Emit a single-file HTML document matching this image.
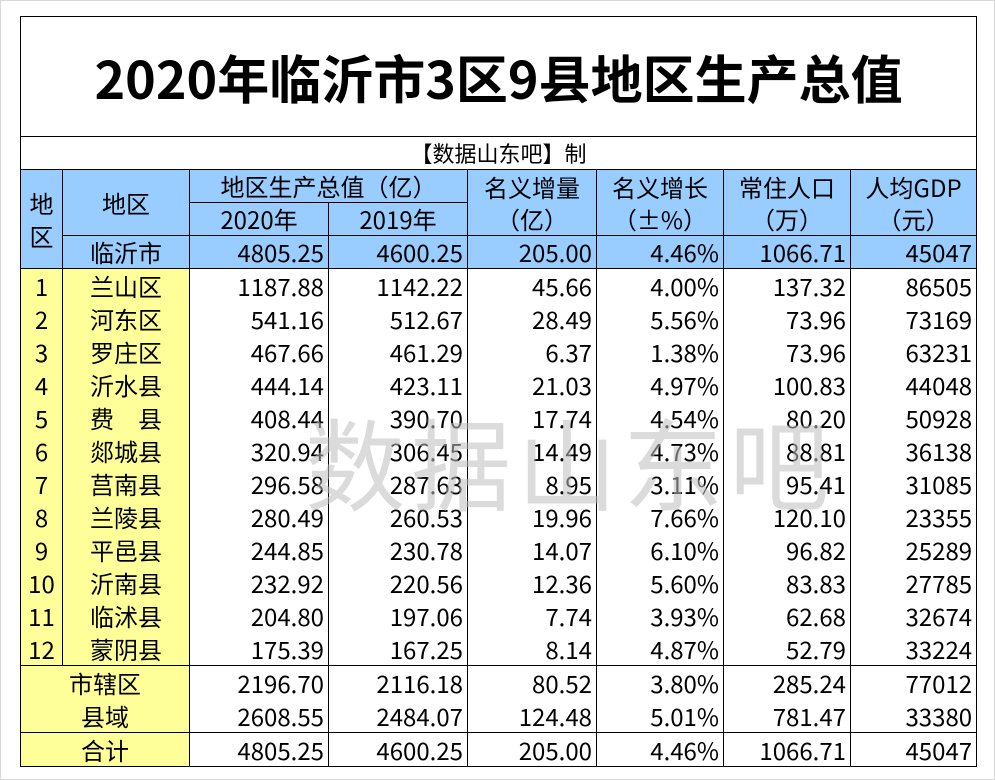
<!DOCTYPE html>
<html><head><meta charset="utf-8">
<style>
html,body{margin:0;padding:0;background:#fff;width:995px;height:780px;overflow:hidden;}
body{font-family:"Noto Sans CJK SC","Liberation Sans",sans-serif;color:#000;position:relative;}
.frame{position:absolute;left:0;top:0;width:993px;height:778px;border:1px solid #d8d8d8;}
table{position:absolute;left:20px;top:16px;border-collapse:collapse;table-layout:fixed;width:956px;}
td{border-left:1.5px solid #000;border-right:1.5px solid #000;padding:0 4px 0 0;height:32px;font-size:24px;line-height:32px;white-space:nowrap;text-align:right;overflow:hidden;box-sizing:border-box;}
tr.d td{height:33px;line-height:33px;}
.c{text-align:center;padding:0;}
.b{background:#99ccff;}
.y{background:#ffff99;}
.t{border-top:1.5px solid #000;}
.bt{border-bottom:1.5px solid #000;}
.title{height:119px;font-size:52px;font-weight:bold;text-align:center;padding:0;border-top:1.5px solid #000;border-bottom:1.5px solid #000;line-height:119px;}
.sub{font-size:22px;text-align:center;padding:0;border-bottom:1.5px solid #000;height:33px;}
.wm{position:absolute;left:305px;top:395px;font-size:100px;line-height:130px;color:rgba(190,190,190,0.55);letter-spacing:6px;pointer-events:none;}
</style></head><body>
<div class="frame"></div>
<table>
<colgroup><col style="width:42px"><col style="width:127px"><col style="width:139px"><col style="width:139px"><col style="width:129px"><col style="width:127px"><col style="width:127px"><col style="width:126px"></colgroup>
<tr><td colspan="8" class="title">2020年临沂市3区9县地区生产总值</td></tr>
<tr><td colspan="8" class="sub">【数据山东吧】制</td></tr>
<tr class="b">
<td rowspan="3" class="c b bt" style="line-height:33px;white-space:normal">地<br>区</td>
<td rowspan="2" class="c b bt">地区</td>
<td colspan="2" class="c b bt">地区生产总值（亿）</td>
<td rowspan="2" class="c b bt" style="white-space:normal">名义增量<br>（亿）</td>
<td rowspan="2" class="c b bt" style="white-space:normal">名义增长<br>（±%）</td>
<td rowspan="2" class="c b bt" style="white-space:normal">常住人口<br>（万）</td>
<td rowspan="2" class="c b bt" style="white-space:normal">人均GDP<br>（元）</td>
</tr>
<tr class="b">
<td class="c b bt">2020年</td>
<td class="c b bt">2019年</td>
</tr>
<tr class="b bt">
<td class="c b bt">临沂市</td><td class="b bt">4805.25</td><td class="b bt">4600.25</td><td class="b bt">205.00</td><td class="b bt">4.46%</td><td class="b bt">1066.71</td><td class="b bt">45047</td>
</tr>
<tbody id="rows"></tbody>
<tr class="d"><td colspan="2" class="c y t">市辖区</td><td class="t">2196.70</td><td class="t">2116.18</td><td class="t">80.52</td><td class="t">3.80%</td><td class="t">285.24</td><td class="t">77012</td></tr>
<tr class="d"><td colspan="2" class="c y">县域</td><td>2608.55</td><td>2484.07</td><td>124.48</td><td>5.01%</td><td>781.47</td><td>33380</td></tr>
<tr class="d"><td colspan="2" class="c y t bt">合计</td><td class="t bt">4805.25</td><td class="t bt">4600.25</td><td class="t bt">205.00</td><td class="t bt">4.46%</td><td class="t bt">1066.71</td><td class="t bt">45047</td></tr>
</table>
<div class="wm">数据山东吧</div>
<script>
const regions=["兰山区","河东区","罗庄区","沂水县","费　县","郯城县","莒南县","兰陵县","平邑县","沂南县","临沭县","蒙阴县"];
const gdp2020=["1187.88","541.16","467.66","444.14","408.44","320.94","296.58","280.49","244.85","232.92","204.80","175.39"];
const gdp2019=["1142.22","512.67","461.29","423.11","390.70","306.45","287.63","260.53","230.78","220.56","197.06","167.25"];
const increase=["45.66","28.49","6.37","21.03","17.74","14.49","8.95","19.96","14.07","12.36","7.74","8.14"];
const growth=["4.00%","5.56%","1.38%","4.97%","4.54%","4.73%","3.11%","7.66%","6.10%","5.60%","3.93%","4.87%"];
const population=["137.32","73.96","73.96","100.83","80.20","88.81","95.41","120.10","96.82","83.83","62.68","52.79"];
const perCapita=["86505","73169","63231","44048","50928","36138","31085","23355","25289","27785","32674","33224"];
const tb=document.getElementById('rows');
regions.forEach((r,i)=>{
  const tr=document.createElement('tr');
  tr.className='d';
  
  
  const cells=[[String(i+1),'c y'],[r,'c y'],[gdp2020[i],''],[gdp2019[i],''],[increase[i],''],[growth[i],''],[population[i],''],[perCapita[i],'']];
  cells.forEach(([v,c])=>{
    const td=document.createElement('td');
    td.textContent=v;
    if(c)td.className=c;
    
    
    tr.appendChild(td);
  });
  tb.appendChild(tr);
});
</script>
</body></html>
